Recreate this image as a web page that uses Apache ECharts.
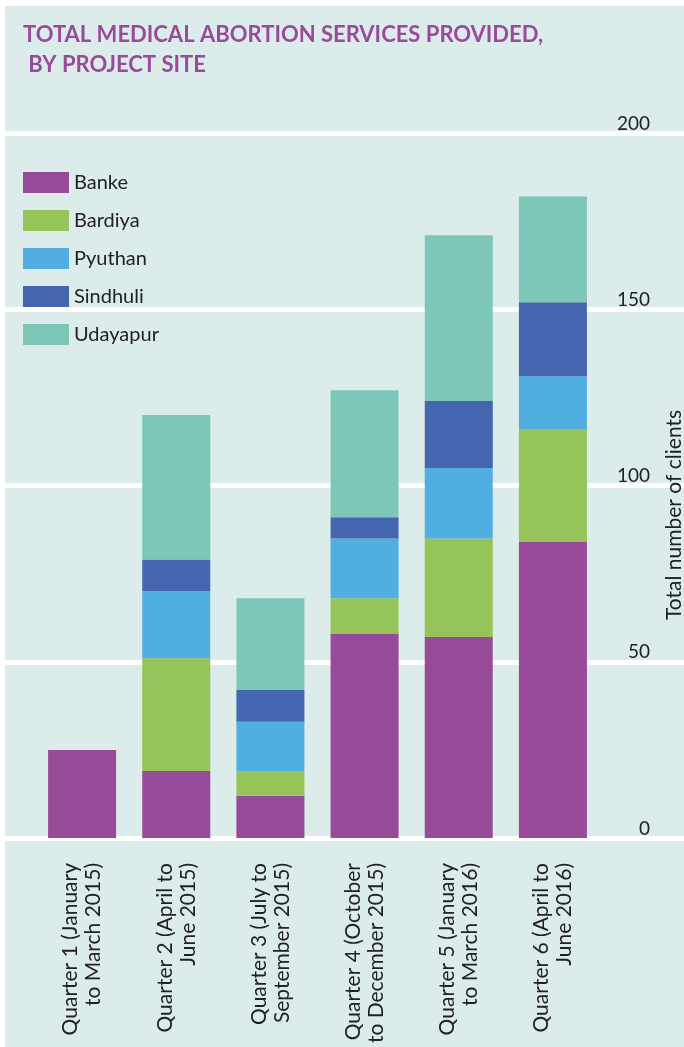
<!DOCTYPE html>
<html>
<head>
<meta charset="utf-8">
<script src="https://cdn.jsdelivr.net/npm/echarts@6/dist/echarts.min.js"></script>
<style>
  body { margin: 0; background: #fff; }
  #wrap { position: relative; width: 684px; height: 1047px; }
  #panel { position: absolute; left: 5px; top: 6px; right: 0; bottom: 0; background: #dbecea; }
  #chart { position: absolute; left: 0; top: 0; width: 684px; height: 1047px; }
</style>
</head>
<body>
<div id="wrap">
  <div id="panel"></div>
  <div id="chart"></div>
</div>
<script>
const quarters = [
  'Quarter 1 (January\nto March 2015)',
  'Quarter 2 (April to\nJune 2015)',
  'Quarter 3 (July to\nSeptember 2015)',
  'Quarter 4 (October\nto December 2015)',
  'Quarter 5 (January\nto March 2016)',
  'Quarter 6 (April to\nJune 2016)'
]
const banke = [25, 19, 12, 58, 57, 84]
const bardiya = [0, 32, 7, 10, 28, 32]
const pyuthan = [0, 19, 14, 17, 20, 15]
const sindhuli = [0, 9, 9, 6, 19, 21]
const udayapur = [0, 41, 26, 36, 47, 30]
const yTicks = [0, 50, 100, 150, 200]

const FONT = 'Lato'
const TEXT = '#222'

const chart = echarts.init(document.getElementById('chart'), null, { renderer: 'canvas' })

function barSeries(name, data, color) {
  return {
    name,
    type: 'bar',
    stack: 'total',
    data,
    barWidth: 68,
    xAxisIndex: 0,
    yAxisIndex: 0,
    itemStyle: { color }
  }
}

const option = {
  animation: false,
  title: {
    text: 'TOTAL MEDICAL ABORTION SERVICES PROVIDED,\n BY PROJECT SITE',
    left: 18,
    top: 15,
    textStyle: {
      fontFamily: FONT,
      fontWeight: 'bold',
      fontSize: 22,
      lineHeight: 30,
      color: '#9a4a9a'
    }
  },
  legend: {
    orient: 'vertical',
    left: 23,
    top: 172,
    padding: 0,
    itemWidth: 46,
    itemHeight: 21,
    itemGap: 17,
    icon: 'rect',
    textStyle: { fontFamily: FONT, fontSize: 20, color: TEXT },
    data: ['Banke', 'Bardiya', 'Pyuthan', 'Sindhuli', 'Udayapur']
  },
  grid: [
    { left: 35, right: 84, top: 133, bottom: 209 },
    { left: 5, right: 0, top: 133, bottom: 209 }
  ],
  xAxis: [
    {
      type: 'category',
      gridIndex: 0,
      data: quarters,
      axisLine: { show: false },
      axisTick: { show: false },
      axisLabel: {
        rotate: 90,
        interval: 0,
        margin: 25,
        fontFamily: FONT,
        fontSize: 21,
        lineHeight: 23,
        color: TEXT
      }
    },
    {
      type: 'category',
      gridIndex: 1,
      data: [''],
      show: false
    }
  ],
  yAxis: [
    {
      type: 'value',
      gridIndex: 0,
      position: 'right',
      min: 0,
      max: 200,
      interval: 50,
      axisLine: { show: false },
      axisTick: { show: false },
      splitLine: { show: false },
      axisLabel: {
        margin: 50,
        align: 'right',
        verticalAlign: 'bottom',
        fontFamily: FONT,
        fontSize: 19,
        color: TEXT,
        formatter: v => (yTicks.includes(v) ? String(v) : '')
      }
    },
    {
      type: 'value',
      gridIndex: 1,
      min: 0,
      max: 200,
      interval: 50,
      axisLine: { show: false },
      axisTick: { show: false },
      axisLabel: { show: false },
      splitLine: { show: true, lineStyle: { color: '#ffffff', width: 5 } }
    }
  ],
  graphic: [
    {
      type: 'text',
      z: 100,
      x: 674,
      y: 515,
      rotation: Math.PI / 2,
      style: {
        text: 'Total number of clients',
        fontFamily: FONT,
        fontSize: 21,
        fill: TEXT,
        align: 'center',
        verticalAlign: 'middle'
      }
    }
  ],
  series: [
    barSeries('Banke', banke, '#974a98'),
    barSeries('Bardiya', bardiya, '#95c459'),
    barSeries('Pyuthan', pyuthan, '#50aee1'),
    barSeries('Sindhuli', sindhuli, '#4566ae'),
    barSeries('Udayapur', udayapur, '#7cc7b7')
  ]
}

chart.setOption(option)
</script>
</body>
</html>
